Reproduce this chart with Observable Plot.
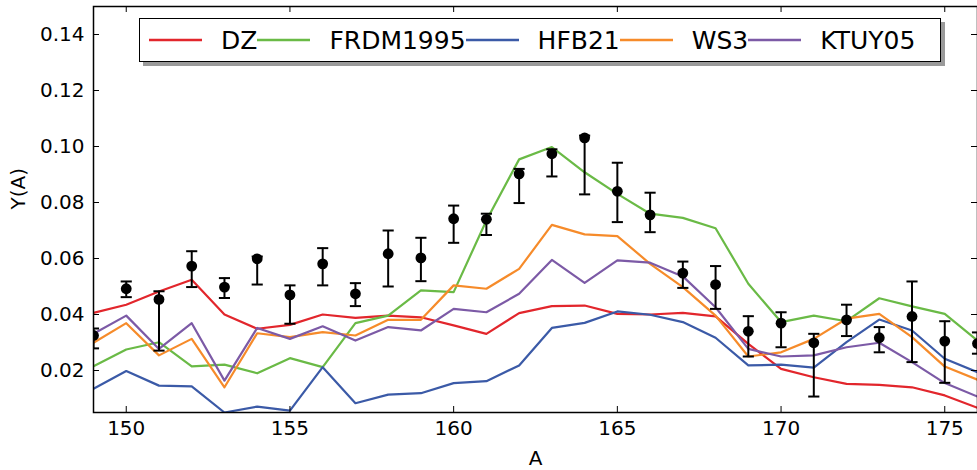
<!DOCTYPE html>
<html>
<head>
<meta charset="utf-8">
<script src="https://cdn.jsdelivr.net/npm/d3@7"></script>
<script src="https://cdn.jsdelivr.net/npm/@observablehq/plot@0.6"></script>
<style>
  html, body { margin: 0; padding: 0; background: #fff; overflow: hidden; }
  #wrap { position: relative; width: 977px; height: 470px; font-family: "DejaVu Sans", sans-serif; }
  #legend { position: absolute; left: 139px; top: 18px; width: 791px; height: 42px;
    border: 1.5px solid #000; background: #fff; box-shadow: 4px 4px 0 #9a9a9a;
    display: flex; align-items: center; padding-left: 9px; box-sizing: content-box; }
  #legend .item { display: flex; align-items: center; font-size: 25px; color: #000; }
  #legend svg { display: block; margin-right: 19px; }
</style>
</head>
<body>
<div id="wrap"><div id="legend"></div></div>
<script>
const A = [149,150,151,152,153,154,155,156,157,158,159,160,161,162,163,164,165,166,167,168,169,170,171,172,173,174,175,176];

const expY  = [0.0325,0.0492,0.0454,0.0573,0.0498,0.0599,0.0470,0.0581,0.0474,0.0617,0.0602,0.0742,0.0740,0.0902,0.0974,0.1031,0.0840,0.0756,0.0548,0.0507,0.0340,0.0369,0.0299,0.0381,0.0317,0.0393,0.0305,0.0296];
const expHi = [0.0350,0.0518,0.0483,0.0626,0.0530,0.0607,0.0504,0.0637,0.0512,0.0700,0.0674,0.0789,0.0760,0.0920,0.0990,0.1039,0.0942,0.0835,0.0589,0.0573,0.0394,0.0408,0.0331,0.0435,0.0355,0.0518,0.0376,0.0336];
const expLo = [0.0279,0.0462,0.0271,0.0498,0.0459,0.0507,0.0367,0.0504,0.0430,0.0500,0.0519,0.0656,0.0684,0.0798,0.0893,0.0829,0.0730,0.0694,0.0495,0.0420,0.0250,0.0283,0.0107,0.0323,0.0265,0.0230,0.0156,0.0260];

const DZ       = [0.0406,0.0435,0.0482,0.0524,0.0400,0.0349,0.0363,0.0400,0.0388,0.0396,0.0390,0.0361,0.0331,0.0405,0.0430,0.0432,0.0402,0.0400,0.0406,0.0393,0.0295,0.0206,0.0176,0.0152,0.0149,0.0140,0.0111,0.0067];
const FRDM1995 = [0.0215,0.0275,0.0301,0.0215,0.0221,0.0190,0.0244,0.0212,0.0369,0.0396,0.0486,0.0480,0.0736,0.0954,0.0998,0.0908,0.0831,0.0760,0.0745,0.0708,0.0510,0.0373,0.0396,0.0376,0.0458,0.0429,0.0402,0.0307];
const HFB21    = [0.0135,0.0198,0.0146,0.0143,0.0050,0.0071,0.0057,0.0212,0.0083,0.0114,0.0119,0.0155,0.0162,0.0218,0.0352,0.0370,0.0411,0.0399,0.0373,0.0317,0.0218,0.0221,0.0210,0.0301,0.0382,0.0343,0.0242,0.0194];
const WS3      = [0.0299,0.0369,0.0254,0.0313,0.0140,0.0333,0.0319,0.0337,0.0325,0.0381,0.0381,0.0504,0.0492,0.0563,0.0720,0.0686,0.0680,0.0581,0.0498,0.0396,0.0250,0.0265,0.0313,0.0385,0.0402,0.0319,0.0214,0.0167];
const KTUY05   = [0.0331,0.0396,0.0277,0.0369,0.0164,0.0352,0.0313,0.0358,0.0307,0.0355,0.0343,0.0420,0.0408,0.0474,0.0595,0.0513,0.0593,0.0585,0.0536,0.0426,0.0277,0.0250,0.0254,0.0283,0.0299,0.0230,0.0155,0.0107];

const seriesNames  = ["DZ","FRDM1995","HFB21","WS3","KTUY05"];
const seriesValues = [DZ, FRDM1995, HFB21, WS3, KTUY05];
const seriesColors = ["#e2262c","#6aba46","#3b5aa7","#f68b2a","#7c5aa6"];

const xTicks = [150,155,160,165,170,175];
const yTicks = [0.02,0.04,0.06,0.08,0.10,0.12,0.14];

const lineRows = [];
seriesNames.forEach((s, i) => A.forEach((a, j) => lineRows.push({A: a, y: seriesValues[i][j], series: s})));
const expRows = A.map((a, j) => ({A: a, y: expY[j], hi: expHi[j], lo: expLo[j]}));

const W = 977, H = 470, mL = 93, mR = 0, mT = 6, mB = 58;
const innerH = H - mT - mB, innerW = W - mL - mR;
const capHalf = 0.17;
const font = "DejaVu Sans, sans-serif";

const chart = Plot.plot({
  width: W, height: H,
  marginLeft: mL, marginRight: mR, marginTop: mT, marginBottom: mB,
  style: {fontFamily: font, fontSize: "20px", color: "#000", background: "#fff"},
  x: {domain: [149, 176]},
  y: {domain: [0.005, 0.15]},
  color: {domain: seriesNames, range: seriesColors},
  marks: [
    Plot.line(lineRows, {x: "A", y: "y", z: "series", stroke: "series", strokeWidth: 2.2, clip: true}),
    Plot.ruleX(expRows, {x: "A", y1: "lo", y2: "hi", stroke: "#000", strokeWidth: 2, clip: true}),
    Plot.link(expRows, {x1: d => d.A - capHalf, x2: d => d.A + capHalf, y1: "hi", y2: "hi", stroke: "#000", strokeWidth: 2, clip: true}),
    Plot.link(expRows, {x1: d => d.A - capHalf, x2: d => d.A + capHalf, y1: "lo", y2: "lo", stroke: "#000", strokeWidth: 2, clip: true}),
    Plot.dot(expRows, {x: "A", y: "y", r: 5.4, fill: "#000", stroke: "none", clip: true}),
    Plot.tickX(xTicks, {x: d => d, insetTop: innerH - 6, stroke: "#000", strokeWidth: 1}),
    Plot.tickX(xTicks, {x: d => d, insetBottom: innerH - 6, stroke: "#000", strokeWidth: 1}),
    Plot.tickY(yTicks, {y: d => d, insetRight: innerW - 6, stroke: "#000", strokeWidth: 1}),
    Plot.tickY(yTicks, {y: d => d, insetLeft: innerW - 6, stroke: "#000", strokeWidth: 1}),
    Plot.axisX(xTicks, {tickSize: 0, tickPadding: 8, label: null, fontSize: 20}),
    Plot.axisY(yTicks, {tickSize: 0, tickPadding: 9, label: null, tickFormat: d3.format(".2f"), fontSize: 20}),
    Plot.text(["A"], {frameAnchor: "bottom", lineAnchor: "middle", dy: 46, fontSize: 20, text: d => d}),
    Plot.text(["Y(A)"], {frameAnchor: "left", lineAnchor: "middle", dx: -75, rotate: -90, fontSize: 20, text: d => d}),
    Plot.frame({stroke: "#000", strokeWidth: 1.5})
  ]
});

const wrap = document.getElementById("wrap");
wrap.insertBefore(chart, wrap.firstChild);
chart.style.display = "block";

const legend = document.getElementById("legend");
seriesNames.forEach((s, i) => {
  const item = document.createElement("div");
  item.className = "item";
  item.innerHTML = `<svg width="53" height="10"><line x1="0" x2="53" y1="5" y2="5" stroke="${seriesColors[i]}" stroke-width="2.6"/></svg><span>${s}</span>`;
  legend.appendChild(item);
});
</script>
</body>
</html>
